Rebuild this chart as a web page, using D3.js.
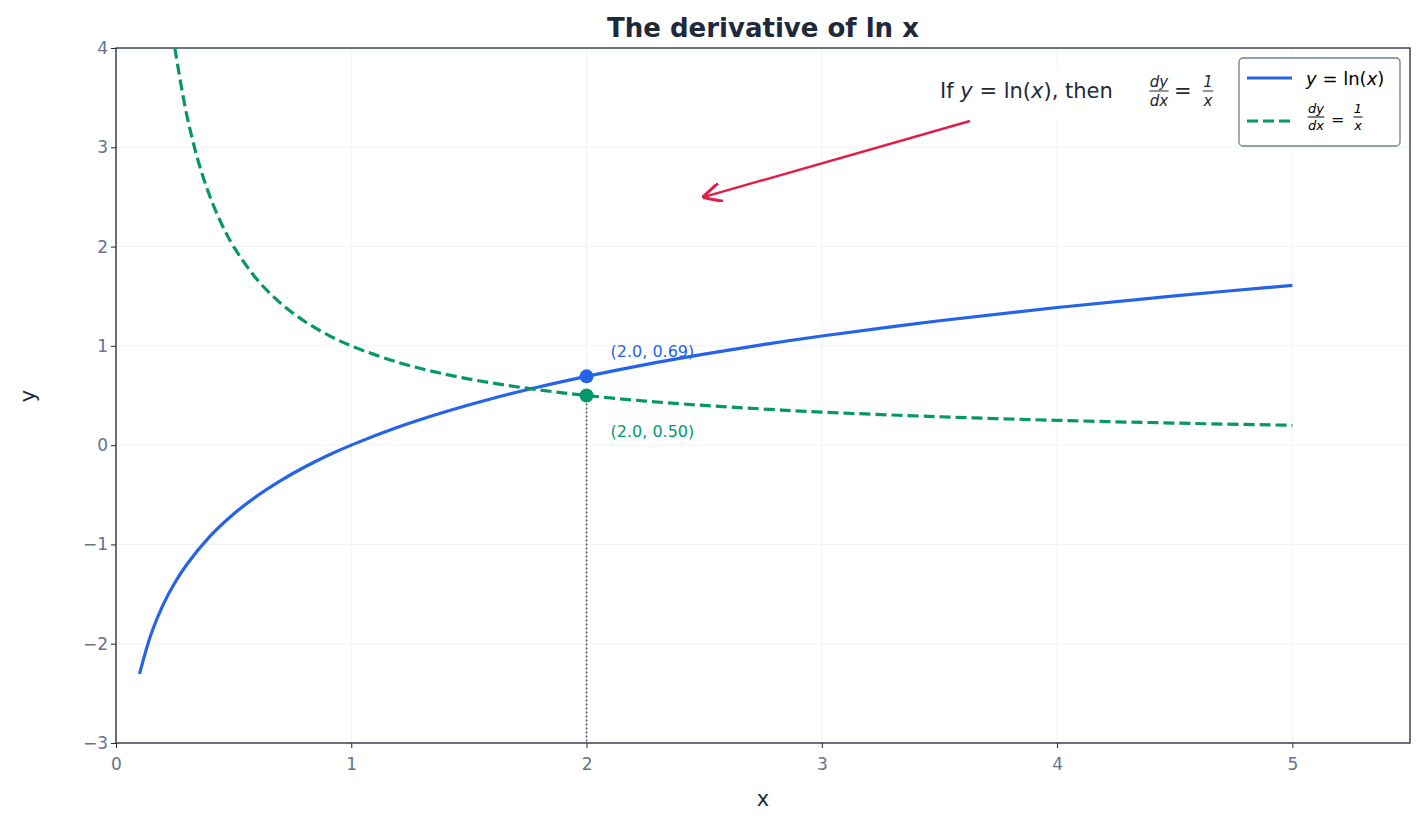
<!DOCTYPE html>
<html><head><meta charset="utf-8">
<script src="https://cdn.jsdelivr.net/npm/d3@7"></script>
<style>body{margin:0;background:#fff;font-family:"DejaVu Sans",sans-serif}</style>
</head><body><svg id="c" width="1425" height="825"></svg>
<script>
const lnX = [0.1,0.15,0.2,0.25,0.3,0.4,0.5,0.6,0.7,0.8,0.9,1,1.2,1.4,1.6,1.8,2,2.25,2.5,2.75,3,3.5,4,4.5,5];
const lnY = [-2.303,-1.897,-1.609,-1.386,-1.204,-0.916,-0.693,-0.511,-0.357,-0.223,-0.105,0,0.182,0.336,0.470,0.588,0.693,0.811,0.916,1.012,1.099,1.253,1.386,1.504,1.609];
const invX = [0.25,0.3,0.35,0.4,0.45,0.5,0.6,0.7,0.8,0.9,1,1.2,1.4,1.6,1.8,2,2.25,2.5,2.75,3,3.5,4,4.5,5];
const invY = [4,3.333,2.857,2.5,2.222,2,1.667,1.429,1.25,1.111,1,0.833,0.714,0.625,0.556,0.5,0.444,0.4,0.364,0.333,0.286,0.25,0.222,0.2];
const xTicks = [0,1,2,3,4,5];
const yTicks = [-3,-2,-1,0,1,2,3,4];
const markPts = [{x:2,y:0.693,label:"(2.0, 0.69)"},{x:2,y:0.5,label:"(2.0, 0.50)"}];

const svg = d3.select("#c");
const L=116,R=1410,T=48,B=743;
const x = d3.scaleLinear().domain([0,5.5]).range([L,R]);
const y = d3.scaleLinear().domain([-3,4]).range([B,T]);
const grid = svg.append("g");
xTicks.forEach(t=>grid.append("line").attr("x1",x(t)).attr("x2",x(t)).attr("y1",T).attr("y2",B).attr("stroke","#f1f3f5"));
yTicks.forEach(t=>grid.append("line").attr("x1",L).attr("x2",R).attr("y1",y(t)).attr("y2",y(t)).attr("stroke","#f1f3f5"));
svg.append("defs").append("clipPath").attr("id","cl").append("rect").attr("x",L).attr("y",T).attr("width",R-L).attr("height",B-T);
const minus = d=>d<0?"\u2212"+Math.abs(d):""+d;
const xa = svg.append("g").attr("transform",`translate(0,${B})`).call(d3.axisBottom(x).tickValues(xTicks).tickSize(5).tickFormat(minus));
const ya = svg.append("g").attr("transform",`translate(${L},0)`).call(d3.axisLeft(y).tickValues(yTicks).tickSize(5).tickFormat(minus));
[xa,ya].forEach(a=>{a.selectAll("text").attr("fill","#64748b").style("font-size","17px").style("font-family","DejaVu Sans");a.selectAll("line").attr("stroke","#1e293b");a.select(".domain").remove();});
xa.selectAll("text").attr("dy","1.1em");
svg.append("rect").attr("x",L).attr("y",T).attr("width",R-L).attr("height",B-T).attr("fill","none").attr("stroke","#1e293b").attr("stroke-width",1.3);
const g = svg.append("g").attr("clip-path","url(#cl)");
// vertical dotted
g.append("line").attr("x1",x(2)).attr("x2",x(2)).attr("y1",y(0.5)).attr("y2",B).attr("stroke","#475569").attr("stroke-width",1.5).attr("stroke-dasharray","2,2");
const line = d3.line().x(d=>x(d[0])).y(d=>y(d[1])).curve(d3.curveCatmullRom);
g.append("path").attr("d",line(lnX.map((v,i)=>[v,lnY[i]]))).attr("fill","none").attr("stroke","#2563eb").attr("stroke-width",3.2);
g.append("path").attr("d",line(invX.map((v,i)=>[v,invY[i]]))).attr("fill","none").attr("stroke","#059669").attr("stroke-width",3.2).attr("stroke-dasharray","11,5");
const cols=["#2563eb","#059669"];
markPts.forEach((p,i)=>{
  svg.append("circle").attr("cx",x(p.x)).attr("cy",y(p.y)).attr("r",7).attr("fill",cols[i]);
  svg.append("text").attr("x",x(p.x)+24).attr("y",y(p.y)+(i==0?-19:41)).text(p.label).attr("fill",cols[i]).style("font-size","16px");
});
// annotation
svg.append("rect").attr("x",935).attr("y",68).attr("width",290).attr("height",50).attr("fill","#fff");
function frac(gp,cx,cy,num,den,fs){
  gp.append("text").attr("x",cx).attr("y",cy-4).attr("text-anchor","middle").style("font-size",fs+"px").style("font-style","italic").text(num);
  gp.append("line").attr("x1",cx-w(num,fs)).attr("x2",cx+w(num,fs)).attr("y1",cy).attr("y2",cy).attr("stroke","currentColor").attr("stroke-width",1);
  gp.append("text").attr("x",cx).attr("y",cy+fs).attr("text-anchor","middle").style("font-size",fs+"px").style("font-style","italic").text(den);
}
function w(s,fs){return Math.max(s.length*fs*0.32,fs*0.35);}
const ann = svg.append("g").attr("fill","#1e293b").style("color","#1e293b");
const at = ann.append("text").attr("x",940).attr("y",98).style("font-size","21px");
at.append("tspan").text("If ");at.append("tspan").style("font-style","italic").text("y");
at.append("tspan").text(" = ln(");at.append("tspan").style("font-style","italic").text("x");
at.append("tspan").text("), then");
frac(ann,1159,91,"dy","dx",15);
ann.append("text").attr("x",1174).attr("y",98).style("font-size","21px").text("=");
frac(ann,1208,91,"1","x",15);
svg.append("defs").append("marker").attr("id","ar").attr("viewBox","0 0 10 10").attr("refX",9).attr("refY",5).attr("markerWidth",8).attr("markerHeight",8).attr("orient","auto")
  .append("path").attr("d","M0,0 L10,5 L0,10").attr("fill","none").attr("stroke","#e11d48").attr("stroke-width",1.6);
svg.append("line").attr("x1",970).attr("y1",121).attr("x2",x(2.5)).attr("y2",y(2.5)).attr("stroke","#e11d48").attr("stroke-width",2.4).attr("marker-end","url(#ar)");
// legend
svg.append("rect").attr("x",1239).attr("y",58).attr("width",161).attr("height",88).attr("rx",4).attr("fill","#fff").attr("stroke","#708090").attr("stroke-width",1.3);
svg.append("line").attr("x1",1247).attr("x2",1292).attr("y1",78).attr("y2",78).attr("stroke","#2563eb").attr("stroke-width",3.2);
svg.append("line").attr("x1",1247).attr("x2",1292).attr("y1",121).attr("y2",121).attr("stroke","#059669").attr("stroke-width",3.2).attr("stroke-dasharray","11,5");
const lg = svg.append("g").attr("fill","#000").style("color","#000");
const l1 = lg.append("text").attr("x",1306).attr("y",85).style("font-size","18px");
l1.append("tspan").style("font-style","italic").text("y");l1.append("tspan").text(" = ln(");l1.append("tspan").style("font-style","italic").text("x");l1.append("tspan").text(")");
frac(lg,1316,117,"dy","dx",13);
lg.append("text").attr("x",1331).attr("y",125).style("font-size","16px").text("=");
frac(lg,1358,117,"1","x",13);
svg.append("text").attr("x",763).attr("y",37).attr("text-anchor","middle").style("font-size","26px").style("font-weight","bold").attr("fill","#1e293b").text("The derivative of ln x");
svg.append("text").attr("x",763).attr("y",806).attr("text-anchor","middle").style("font-size","21px").attr("fill","#1e293b").text("x");
svg.append("text").attr("transform","translate(35,396) rotate(-90)").attr("text-anchor","middle").style("font-size","21px").attr("fill","#1e293b").text("y");
</script></body></html>
